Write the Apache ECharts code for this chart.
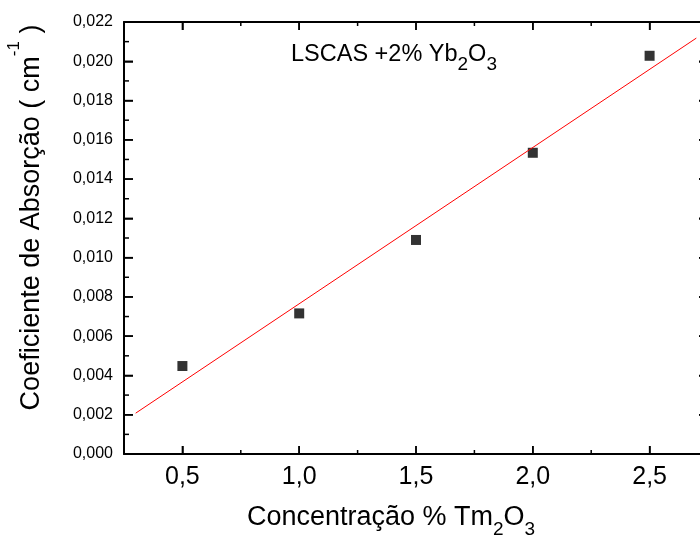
<!DOCTYPE html>
<html><head><meta charset="utf-8">
<script src="https://cdn.jsdelivr.net/npm/echarts@6/dist/echarts.min.js"></script>
<style>html,body{margin:0;padding:0;background:#fff}#c{width:700px;height:537px}</style>
</head><body><div id="c"></div>
<script>
// ---- data ----
const concentrations = [0.5, 1.0, 1.5, 2.0, 2.5];
const absorption = [0.00448, 0.00716, 0.0109, 0.01534, 0.02028];
const fitX = [0.3, 2.7];
const fitY = [0.00208, 0.02118];
const xMajorTicks = [0.5, 1.0, 1.5, 2.0, 2.5];
const xMinorTicks = [0.25, 0.75, 1.25, 1.75, 2.25, 2.75];
const yMajorTicks = [0, 0.002, 0.004, 0.006, 0.008, 0.010, 0.012, 0.014, 0.016, 0.018, 0.020, 0.022];
const yMinorTicks = [0.001, 0.003, 0.005, 0.007, 0.009, 0.011, 0.013, 0.015, 0.017, 0.019, 0.021];
const yTitle = ['Coeficiente de Absorção ( cm', '-1', ' )'];
const xTitle = ['Concentração % Tm', '2', 'O', '3'];
const note = ['LSCAS +2% Yb', '2', 'O', '3'];

const FONT = '"Liberation Sans", Arial, sans-serif';
const chart = echarts.init(document.getElementById('c'));

const X_MIN = 0.25, X_MAX = 2.75, Y_MIN = 0, Y_MAX = 0.022;

const measureCtx = document.createElement('canvas').getContext('2d');
function textWidth(t, size) { measureCtx.font = size + 'px ' + FONT; return measureCtx.measureText(t).width; }
function pieces(parts, startX, baseY) {
  const out = [];
  let x = startX;
  parts.forEach(p => {
    out.push({type: 'text', x: x, y: baseY + p[2], silent: true,
      style: {text: p[0], fontSize: p[1], fontFamily: FONT, fill: '#000', align: 'left', verticalAlign: 'middle'}});
    x += textWidth(p[0], p[1]);
  });
  return out;
}
function totalWidth(parts) { return parts.reduce((s, p) => s + textWidth(p[0], p[1]), 0); }

function xAx(pos, labels) {
  return {
    type: 'value', position: pos, min: X_MIN, max: X_MAX,
    axisLine: {show: true, onZero: false, lineStyle: {color: '#000', width: 2}},
    axisTick: {show: true, inside: true, length: 8, customValues: xMajorTicks, lineStyle: {color: '#000', width: 1.5}},
    axisLabel: labels ? {
      show: true, customValues: xMajorTicks, margin: 11, fontSize: 25, color: '#000', fontFamily: FONT,
      formatter: v => v.toFixed(1).replace('.', ',')
    } : {show: false},
    splitLine: {show: false}
  };
}
function yAx(pos, labels) {
  return {
    type: 'value', position: pos, min: Y_MIN, max: Y_MAX, interval: 0.002,
    axisLine: {show: true, onZero: false, lineStyle: {color: '#000', width: 2}},
    axisTick: {show: true, inside: true, length: 9, lineStyle: {color: '#000', width: 1.5}},
    axisLabel: labels ? {
      show: true, margin: 11, fontSize: 16, color: '#000', fontFamily: FONT,
      formatter: v => v.toFixed(3).replace('.', ',')
    } : {show: false},
    splitLine: {show: false}
  };
}

// inward frame ticks drawn through the axes' own scales (api.coord)
function tickLine(x1, y1, x2, y2) {
  return {type: 'line', shape: {x1: x1, y1: y1, x2: x2, y2: y2}, style: {stroke: '#000', lineWidth: 1.5}};
}
function xTickSeries(values, len) {
  return {
    type: 'custom', xAxisIndex: 0, yAxisIndex: 0, silent: true, clip: false,
    data: values.map(v => [v, Y_MIN]),
    renderItem: (params, api) => {
      const v = api.value(0);
      const b = api.coord([v, Y_MIN]), t = api.coord([v, Y_MAX]);
      return {type: 'group', children: [tickLine(b[0], b[1], b[0], b[1] - len), tickLine(t[0], t[1], t[0], t[1] + len)]};
    }
  };
}
function yTickSeries(values, len) {
  return {
    type: 'custom', xAxisIndex: 0, yAxisIndex: 0, silent: true, clip: false,
    data: values.map(v => [X_MIN, v]),
    renderItem: (params, api) => {
      const v = api.value(1);
      const l = api.coord([X_MIN, v]), r = api.coord([X_MAX, v]);
      return {type: 'group', children: [tickLine(l[0], l[1], l[0] + len, l[1]), tickLine(r[0], r[1], r[0] - len, r[1])]};
    }
  };
}

const yParts = [[yTitle[0], 27, 0], [yTitle[1], 17, -17], [yTitle[2], 27, 0]];
const yGroup = {type: 'group', x: 31.5, y: 217.5, rotation: Math.PI / 2,
  children: pieces(yParts, -totalWidth(yParts) / 2, 0)};
const xParts = [[xTitle[0], 27, 0], [xTitle[1], 19, 12], [xTitle[2], 27, 0], [xTitle[3], 19, 12]];
const xTitleEls = pieces(xParts, 391 - totalWidth(xParts) / 2, 518);
const nParts = [[note[0], 23.5, 0], [note[1], 19, 10], [note[2], 23.5, 0], [note[3], 19, 10]];
const noteEls = pieces(nParts, 291, 55);

const option = {
  animation: false,
  grid: [{left: 124, top: 22, width: 584, height: 432, outerBoundsMode: 'none'}],
  xAxis: [xAx('bottom', true), xAx('top', false)],
  yAxis: [yAx('left', true), yAx('right', false)],
  series: [
    xTickSeries(xMajorTicks, 8),
    xTickSeries(xMinorTicks, 4),
    yTickSeries(yMajorTicks, 9),
    yTickSeries(yMinorTicks, 5),
    {
      type: 'line', xAxisIndex: 0, yAxisIndex: 0,
      data: fitX.map((x, i) => [x, fitY[i]]),
      symbol: 'none', showSymbol: false,
      lineStyle: {color: '#ff0000', width: 1}
    },
    {
      type: 'scatter', xAxisIndex: 0, yAxisIndex: 0,
      data: concentrations.map((x, i) => [x, absorption[i]]),
      symbol: 'rect', symbolSize: 10,
      itemStyle: {color: '#000'}
    }
  ],
  graphic: [yGroup].concat(xTitleEls, noteEls)
};
chart.setOption(option);
</script>
</body></html>
